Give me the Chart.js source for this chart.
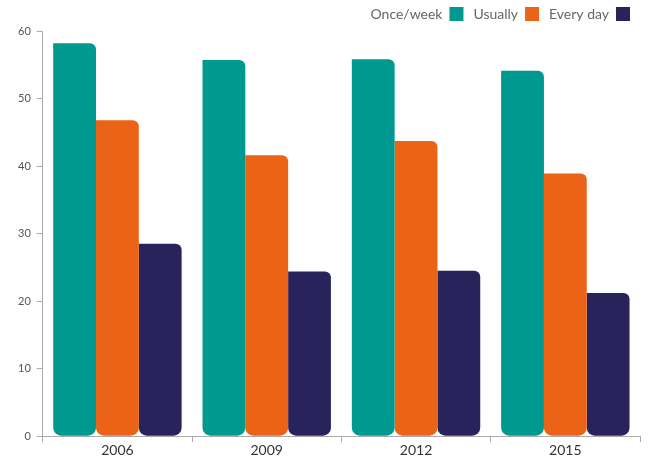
<!DOCTYPE html>
<html>
<head>
<meta charset="utf-8">
<script src="https://cdn.jsdelivr.net/npm/chart.js@4"></script>
<style>
  html, body { margin:0; padding:0; background:#fff; }
  #wrap { width:651px; height:459px; position:relative; }
</style>
</head>
<body>
<div id="wrap"><canvas id="chart"></canvas></div>
<script>
const years = ['2006','2009','2012','2015'];
const onceWeek = [58.2, 55.7, 55.8, 54.1];
const usually = [46.8, 41.6, 43.7, 38.9];
const everyDay = [28.5, 24.4, 24.5, 21.2];
const yTicks = [0, 10, 20, 30, 40, 50, 60];

Chart.defaults.font.family = 'Lato, "Open Sans", sans-serif';
Chart.defaults.font.size = 12;

const barShape = {topLeft:0, topRight:6, bottomLeft:8, bottomRight:8};

new Chart(document.getElementById('chart').getContext('2d'), {
  type: 'bar',
  data: {
    labels: years,
    datasets: [
      {label:'Once/week', data:onceWeek, backgroundColor:'#00998f', borderRadius:barShape, borderSkipped:false},
      {label:'Usually', data:usually, backgroundColor:'#ea6317', borderRadius:barShape, borderSkipped:false},
      {label:'Every day', data:everyDay, backgroundColor:'#29235c', borderRadius:barShape, borderSkipped:false}
    ]
  },
  options: {
    responsive: true,
    maintainAspectRatio: false,
    animation: false,
    layout: { padding: {left: 12, right: 11, top: -3, bottom: 0} },
    datasets: { bar: { categoryPercentage: 0.86, barPercentage: 1 } },
    plugins: {
      legend: {
        position: 'top',
        align: 'start',
        rtl: true,
        reverse: true,
        labels: { color:'#666', font:{size:14}, boxWidth:14, boxHeight:14, padding:10 }
      },
      tooltip: { enabled:false }
    },
    scales: {
      x: {
        grid: { drawOnChartArea:false, tickLength:6, color:'#aaa' },
        border: { color:'#aaa' },
        ticks: { color:'#333', font:{size:14}, padding:0 }
      },
      y: {
        min: 0, max: 60,
        afterBuildTicks: axis => { axis.ticks = yTicks.map(v => ({value:v})); },
        grid: { drawOnChartArea:false, tickLength:6, color:'#aaa' },
        border: { color:'#aaa' },
        ticks: { color:'#555', font:{size:11}, padding:6 }
      }
    }
  }
});
</script>
</body>
</html>
